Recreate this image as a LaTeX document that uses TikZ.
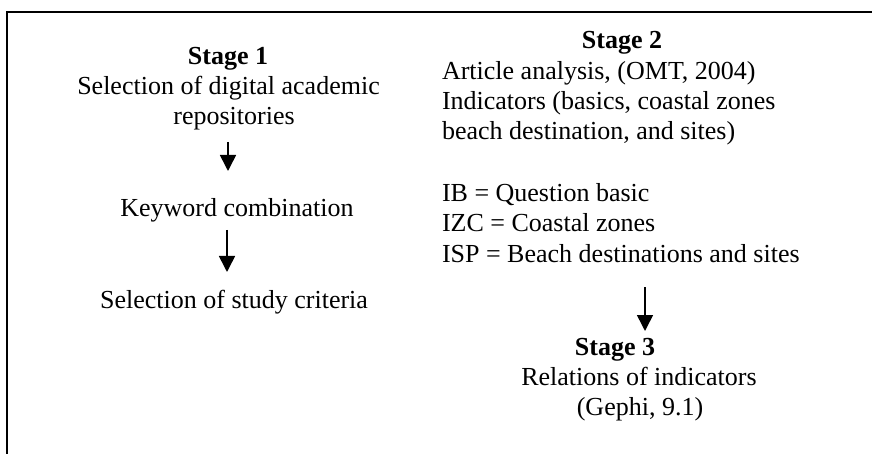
\documentclass[tikz,border=0pt]{standalone}
\usepackage{fontspec}
\setmainfont{Liberation Serif}
\usetikzlibrary{arrows.meta}
\tikzset{
  txt/.style={inner sep=0pt, outer sep=0pt, anchor=base, font=\fontsize{26pt}{30pt}\selectfont},
  txtl/.style={txt, anchor=base west},
  ttl/.style={txt, font=\fontsize{26pt}{30pt}\selectfont\bfseries},
  arr/.style={line width=1.6pt, -{Triangle[width=16pt,length=16pt]}},
  frame/.style={line width=2pt}
}
\begin{document}
\begin{tikzpicture}[x=1pt,y=-1pt]
\useasboundingbox (0,0) rectangle (872,454);
\draw[frame] (6.5,454) -- (6.5,12) -- (872,12);
% Stage 1
\node[ttl] (s1t) at (228,65) {Stage 1};
\node[txt] (s1a) at (228.5,95) {Selection of digital academic};
\node[txt] (s1b) at (234,125) {repositories};
\node[txt] (kw) at (237,217) {Keyword combination};
\node[txt] (sc) at (234,308) {Selection of study criteria};
% Stage 2
\node[ttl] (s2t) at (622,49) {Stage 2};
\node[txtl] (s2a) at (442,80) {Article analysis, (OMT, 2004)};
\node[txtl] (s2b) at (442,110) {Indicators (basics, coastal zones};
\node[txtl] (s2c) at (442,140) {beach destination, and sites)};
\node[txtl] (ib) at (442,202) {IB = Question basic};
\node[txtl] (izc) at (442,232) {IZC = Coastal zones};
\node[txtl] (isp) at (442,262) {ISP = Beach destinations and sites};
% Stage 3
\node[ttl] (s3t) at (615,355) {Stage 3};
\node[txt] (s3a) at (639,385) {Relations of indicators};
\node[txt] (s3b) at (640,415) {(Gephi, 9.1)};
% arrows
\draw[arr] ([xshift=-6pt,yshift=-17pt]s1b.base) -- ([xshift=-9pt,yshift=46pt]kw.base);
\draw[arr] ([xshift=-10pt,yshift=-13pt]kw.base) -- ([xshift=-7pt,yshift=36pt]sc.base);
\draw[arr] ([xshift=203pt,yshift=-25pt]isp.base west) -- ([xshift=30pt,yshift=24pt]s3t.base);
\end{tikzpicture}
\end{document}
